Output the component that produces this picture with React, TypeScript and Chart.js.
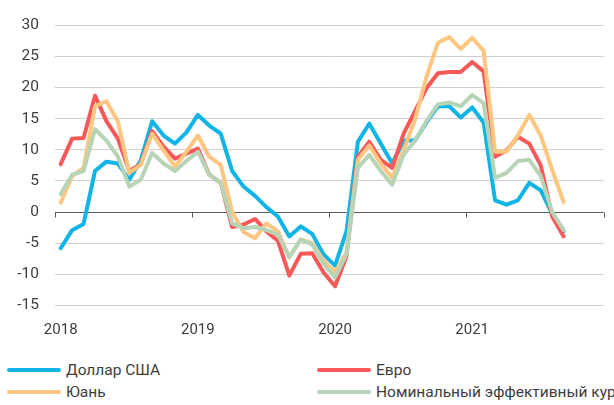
import React, { useEffect, useRef } from "react";
import { Chart, registerables } from "chart.js";

Chart.register(...registerables);

const years = ["2018", "2019", "2020", "2021"];
const monthNames = ["01", "02", "03", "04", "05", "06", "07", "08", "09", "10", "11", "12"];
const categories: string[] = [];
years.forEach((y) => monthNames.forEach((m) => categories.push(m + "." + y)));

const dollar = [-5.8, -2.9, -1.9, 6.6, 8.1, 7.8, 5.2, 8.3, 14.6, 12.3, 11.0, 12.8, 15.6, 13.9, 12.6, 6.6, 4.1, 2.6, 0.8, -0.7, -3.9, -2.3, -3.5, -6.8, -8.6, -3.1, 11.3, 14.2, 11.0, 7.8, 11.5, 11.5, 14.4, 17.0, 17.0, 15.2, 16.8, 14.4, 1.9, 1.2, 1.9, 4.7, 3.5, -0.3, -3.1];
const euro = [7.7, 11.8, 11.9, 18.7, 14.6, 11.8, 6.6, 7.7, 13.0, 10.5, 8.6, 9.4, 10.2, 6.0, 4.7, -2.4, -2.0, -1.1, -3.1, -4.6, -10.2, -6.7, -6.6, -9.7, -11.9, -7.1, 8.9, 11.3, 8.4, 7.1, 12.6, 16.2, 19.9, 22.3, 22.5, 22.5, 24.1, 22.6, 8.9, 9.9, 12.1, 11.0, 7.5, -0.7, -3.9];
const yuan = [1.5, 5.8, 7.1, 17.0, 17.8, 14.6, 6.3, 7.6, 12.6, 9.9, 7.3, 9.7, 12.3, 8.9, 7.6, 0.0, -3.2, -4.2, -1.8, -3.1, -7.3, -4.4, -5.0, -7.8, -9.7, -6.5, 8.4, 10.7, 7.8, 5.5, 9.9, 14.9, 21.7, 27.2, 28.1, 26.2, 28.0, 25.9, 9.7, 9.7, 12.3, 15.6, 12.3, 6.8, 1.6];
const nominal = [2.9, 6.0, 6.6, 13.3, 11.5, 8.9, 4.1, 5.2, 9.5, 7.8, 6.6, 8.2, 9.7, 6.0, 4.7, -1.8, -2.6, -2.4, -2.9, -3.6, -7.2, -4.4, -5.2, -8.3, -10.5, -6.8, 7.1, 9.2, 6.6, 4.4, 9.2, 11.5, 14.6, 17.3, 17.6, 17.0, 18.8, 17.5, 5.5, 6.3, 8.2, 8.4, 5.8, 0.0, -2.9];

const seriesNames = ["Доллар США", "Евро", "Юань", "Номинальный эффективный курс"];
const seriesColors = ["#10B4E6", "#F75858", "#FFC681", "#B7D4B6"];

const FONT = "Roboto, 'Noto Sans', sans-serif";
const TEXT = "#3d3d3d";

const zeroTicks = {
  id: "zeroTicks",
  beforeDatasetsDraw(chart: any) {
    const x = chart.scales.x;
    const y = chart.scales.y;
    const half = (x.getPixelForValue(1) - x.getPixelForValue(0)) / 2;
    const y0 = Math.round(y.getPixelForValue(0)) + 0.5;
    const ctx = chart.ctx;
    ctx.save();
    ctx.strokeStyle = "#5a5a5a";
    ctx.lineWidth = 1;
    for (let k = 0; k <= years.length; k++) {
      const px = Math.round(x.getPixelForValue(k * 12) - half) + 0.5;
      ctx.beginPath();
      ctx.moveTo(px, y0);
      ctx.lineTo(px, y0 + 5);
      ctx.stroke();
    }
    ctx.restore();
  },
};

export default function App() {
  const ref = useRef<HTMLCanvasElement>(null);
  useEffect(() => {
    if (!ref.current) return;
    const data = [dollar, euro, yuan, nominal];
    const chart = new Chart(ref.current, {
      type: "line",
      data: {
        labels: categories,
        datasets: data.map((d, i) => ({
          label: seriesNames[i],
          data: d,
          borderColor: seriesColors[i],
          backgroundColor: seriesColors[i],
          borderWidth: 4,
          pointRadius: 0,
          tension: 0,
          borderCapStyle: "round" as const,
          borderJoinStyle: "round" as const,
          order: 3 - i,
        })),
      },
      options: {
        animation: false,
        responsive: false,
        layout: { padding: { top: 19, right: 8, left: 0, bottom: 0 } },
        plugins: { legend: { display: false }, tooltip: { enabled: false } },
        scales: {
          x: {
            type: "category",
            offset: true,
            grid: { display: false, drawTicks: false },
            border: { display: false },
            ticks: {
              autoSkip: false,
              maxRotation: 0,
              padding: 16,
              color: TEXT,
              font: { family: FONT, size: 15 },
              callback: (_v: any, i: number) => (i % 12 === 0 ? years[i / 12] : ""),
            },
            afterFit: (s: any) => {
              s.height = 39.5;
            },
          },
          y: {
            min: -15,
            max: 30,
            ticks: {
              stepSize: 5,
              padding: 16,
              color: TEXT,
              font: { family: FONT, size: 15.5 },
            },
            grid: {
              drawTicks: false,
              color: (c: any) => (c.tick && c.tick.value === 0 ? "#5a5a5a" : "#cfcfcf"),
              lineWidth: 1,
            },
            border: { display: false },
            afterFit: (s: any) => {
              s.width = 55;
            },
          },
        },
      },
      plugins: [zeroTicks],
    });
    return () => chart.destroy();
  }, []);

  const legendPos = [
    { x: 7, y: 370 },
    { x: 317, y: 370 },
    { x: 7, y: 392 },
    { x: 317, y: 392 },
  ];

  return (
    <div style={{ position: "absolute", left: 0, top: 0, width: 614, height: 405, overflow: "hidden", background: "#fff", fontFamily: FONT }}>
      <canvas ref={ref} width={614} height={345} style={{ display: "block", width: 614, height: 345 }} />
      {seriesNames.map((n, i) => (
        <div key={n} style={{ position: "absolute", left: legendPos[i].x, top: legendPos[i].y - 10, height: 20, display: "flex", alignItems: "center", whiteSpace: "nowrap" }}>
          <div style={{ width: 54, height: 4, borderRadius: 2, background: seriesColors[i], marginRight: 5 }} />
          <span style={{ fontSize: 15.5, color: TEXT, lineHeight: "20px" }}>{n}</span>
        </div>
      ))}
    </div>
  );
}
